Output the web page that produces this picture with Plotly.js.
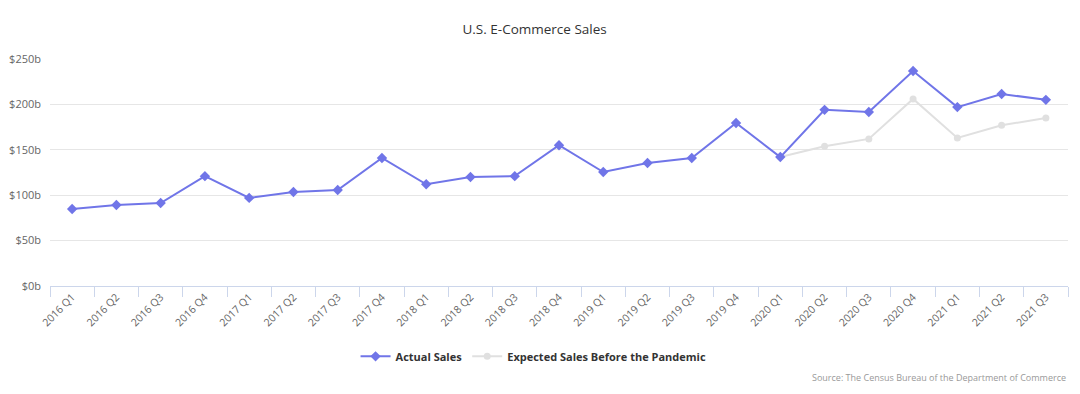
<!DOCTYPE html>
<html>
<head>
<meta charset="utf-8">
<script src="https://cdn.plot.ly/plotly-3.0.1.min.js"></script>
<style>html,body{margin:0;padding:0;background:#fff;}#chart{width:1080px;height:394px;}</style>
</head>
<body>
<div id="chart"></div>
<script>
const quarters = ["2016 Q1","2016 Q2","2016 Q3","2016 Q4","2017 Q1","2017 Q2","2017 Q3","2017 Q4",
  "2018 Q1","2018 Q2","2018 Q3","2018 Q4","2019 Q1","2019 Q2","2019 Q3","2019 Q4",
  "2020 Q1","2020 Q2","2020 Q3","2020 Q4","2021 Q1","2021 Q2","2021 Q3"];
const actualSales = [84.8, 89.2, 91.4, 121, 97, 103.5, 105.7, 141, 112, 120, 121, 155,
  125.5, 135.5, 141, 179.5, 142, 194, 191.6, 236.8, 197, 211.5, 205];
const expectedSales = [null, null, null, null, null, null, null, null, null, null, null, null,
  null, null, null, null, 142, 154, 162, 206, 163, 177, 185];

const font = "'Open Sans', 'DejaVu Sans', sans-serif";
const traces = [
  {
    type: "scatter", mode: "lines+markers", name: "Expected Sales Before the Pandemic",
    x: quarters, y: expectedSales, connectgaps: false,
    line: {color: "#e0e0e0", width: 2},
    marker: {symbol: "circle", size: 7, color: "#e0e0e0"},
    legendrank: 2
  },
  {
    type: "scatter", mode: "lines+markers", name: "Actual Sales",
    x: quarters, y: actualSales,
    line: {color: "#7075e8", width: 2},
    marker: {symbol: "diamond", size: 8, color: "#7075e8"},
    legendrank: 1
  }
];
const layout = {
  width: 1080, height: 394,
  margin: {l: 50, r: 12, t: 59, b: 108},
  paper_bgcolor: "#fff", plot_bgcolor: "#fff",
  font: {family: font, color: "#666666", size: 11},
  title: {text: "U.S. E-Commerce Sales", x: 0.495, xanchor: "center", y: 0.925, yanchor: "middle",
          font: {family: font, size: 13.5, color: "#333333"}},
  xaxis: {
    type: "category", tickson: "boundaries", ticks: "outside", ticklen: 10, tickcolor: "#ccd6eb",
    showline: true, linecolor: "#ccd6eb", linewidth: 1, showgrid: false, zeroline: false,
    tickangle: -45, tickfont: {size: 10.5, color: "#666666"}, range: [-0.5, 22.5], fixedrange: true
  },
  yaxis: {
    range: [0, 250], dtick: 50, tickprefix: "$", ticksuffix: "b",
    showgrid: true, gridcolor: "#e6e6e6", gridwidth: 1, zeroline: false, showline: false,
    tickfont: {size: 11, color: "#666666"}, ticklabelstandoff: 8, fixedrange: true
  },
  showlegend: true,
  legend: {orientation: "h", x: 0.475, xanchor: "center", y: -0.31, yanchor: "middle",
           font: {size: 11, color: "#333333", family: font, weight: "bold"}, traceorder: "normal", itemwidth: 30},
  annotations: [
    {text: "Source: The Census Bureau of the Department of Commerce", xref: "paper", yref: "paper",
     x: 1, xanchor: "right", y: -0.405, yanchor: "middle", showarrow: false,
     font: {size: 9, color: "#999999", family: font}}
  ]
};
Plotly.newPlot("chart", traces, layout, {displayModeBar: false, staticPlot: true});
</script>
</body>
</html>
